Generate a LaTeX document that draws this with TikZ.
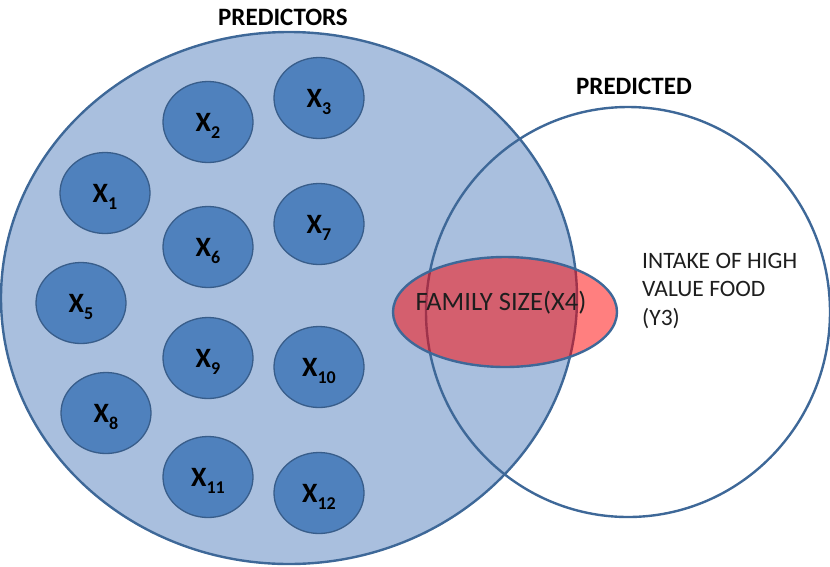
\documentclass[tikz,border=0pt]{standalone}
\usepackage{fontspec}
\setmainfont{Carlito}
\usetikzlibrary{shapes.geometric}

\definecolor{outerfill}{RGB}{169,191,222}
\definecolor{edgeblue}{RGB}{62,104,152}
\definecolor{varfill}{RGB}{79,129,189}
\definecolor{varedge}{RGB}{56,93,138}
\definecolor{inktext}{RGB}{30,30,30}

\tikzset{
  setbox/.style={ellipse, draw=edgeblue, line width=2.4pt, inner sep=0pt},
  var/.style={ellipse, draw=varedge, fill=varfill, line width=1.3pt,
    minimum width=90pt, minimum height=81pt, inner sep=0pt, text depth=0pt,
    font=\fontsize{28}{28}\selectfont\bfseries},
  settitle/.style={font=\fontsize{25}{25}\selectfont\bfseries, anchor=base, inner sep=0pt},
}
\newcommand\xvar[1]{X\raisebox{-7pt}{\fontsize{18}{18}\selectfont #1}}

\begin{document}
\begin{tikzpicture}[x=1pt,y=-1pt]
\useasboundingbox (0,0) rectangle (830,566);

% predictor set
\node[setbox, fill=outerfill, minimum width=576pt, minimum height=532pt] (predictors) at (289,298) {};

% individual predictors
\node[var] (x1)  at (105,193) {\xvar{1}};
\node[var] (x2)  at (208,122) {\xvar{2}};
\node[var] (x3)  at (319,98)  {\xvar{3}};
\node[var] (x5)  at (81,303)  {\xvar{5}};
\node[var] (x6)  at (208,247) {\xvar{6}};
\node[var] (x7)  at (319,224) {\xvar{7}};
\node[var] (x8)  at (106,413) {\xvar{8}};
\node[var] (x9)  at (208,358) {\xvar{9}};
\node[var] (x10) at (319,367) {\xvar{10}};
\node[var] (x11) at (208,477) {\xvar{11}};
\node[var] (x12) at (319,493) {\xvar{12}};

% predicted set
\node[setbox, minimum width=404pt, minimum height=410pt] (predicted) at (628,312) {};

% shared variable
\node[ellipse, draw=edgeblue, line width=2.4pt, fill=red, fill opacity=0.5,
      minimum width=224pt, minimum height=110pt, inner sep=0pt] (family) at (505,312) {};
\node[anchor=base, inner sep=0pt, text=inktext,
      font=\fontsize{26.5}{26.5}\selectfont] (familylabel) at (501,310) {FAMILY SIZE(X4)};

% titles
\node[settitle] (ttlpredictors) at (283,25) {PREDICTORS};
\node[settitle] (ttlpredicted) at (634,94) {PREDICTED};

% outcome description
\node[anchor=base west, align=left, inner sep=0pt, text=inktext,
      font=\fontsize{23.5}{28.5}\selectfont] (y3) at (642,325) {INTAKE OF HIGH\\VALUE FOOD\\(Y3)};
\end{tikzpicture}
\end{document}
